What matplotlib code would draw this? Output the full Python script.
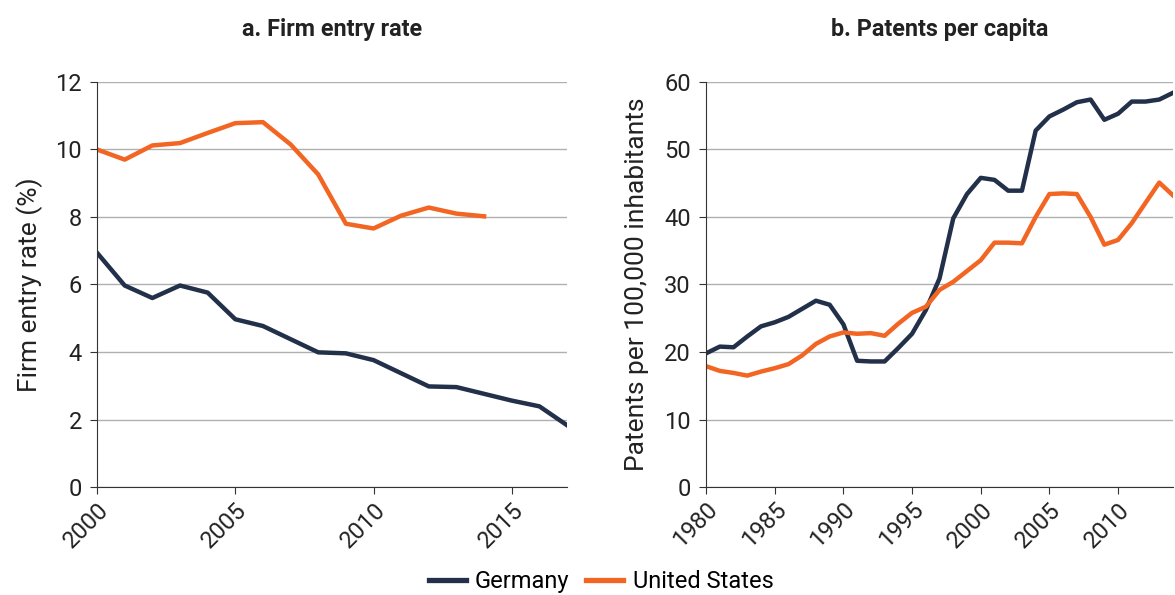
import matplotlib
matplotlib.use("Agg")
import matplotlib.pyplot as plt

# panel a: firm entry rate (%)
years_a = list(range(2000, 2018))
entry_de = [6.94, 5.97, 5.60, 5.97, 5.76, 4.97, 4.77, 4.38, 3.99, 3.96,
            3.76, 3.37, 2.98, 2.96, 2.76, 2.56, 2.39, 1.83]
years_a_us = list(range(2000, 2015))
entry_us = [10.0, 9.7, 10.12, 10.19, 10.49, 10.78, 10.81, 10.15, 9.26, 7.80,
            7.66, 8.04, 8.28, 8.10, 8.02]

# panel b: patents per 100,000 inhabitants
years_b = list(range(1980, 2015))
pat_de = [19.8, 20.8, 20.7, 22.3, 23.8, 24.4, 25.2, 26.4, 27.6, 27.0,
          24.1, 18.7, 18.6, 18.6, 20.6, 22.7, 26.2, 30.9, 39.8, 43.4,
          45.8, 45.5, 43.9, 43.9, 52.8, 54.9, 55.9, 57.0, 57.4, 54.4,
          55.3, 57.1, 57.1, 57.4, 58.4]
pat_us = [17.9, 17.2, 16.9, 16.5, 17.1, 17.6, 18.2, 19.5, 21.2, 22.3,
          22.9, 22.7, 22.8, 22.4, 24.2, 25.8, 26.7, 29.2, 30.4, 32.0,
          33.6, 36.2, 36.2, 36.1, 40.0, 43.4, 43.5, 43.4, 40.0, 35.9,
          36.6, 39.1, 42.1, 45.1, 43.2]

c_de = '#22304a'
c_us = '#f26522'
txt = '#222222'

plt.rcParams['font.family'] = ['Roboto', 'DejaVu Sans']

fig = plt.figure(figsize=(11.75, 5.95), dpi=100)
ax1 = fig.add_axes([0.0826, 0.1815, 0.4, 0.6807])
ax2 = fig.add_axes([0.6009, 0.1815, 0.3974, 0.6807])


def style(ax):
    ax.grid(axis='y', color='#b0b0b0', linewidth=1)
    ax.set_axisbelow(True)
    for s in ['top', 'right']:
        ax.spines[s].set_visible(False)
    for s in ['left', 'bottom']:
        ax.spines[s].set_color('#333333')
    ax.tick_params(axis='both', labelsize=17, colors='#333333', labelcolor=txt,
                   length=5)
    ax.tick_params(axis='y', pad=6)
    ax.tick_params(axis='x', pad=3)
    for lab in ax.get_xticklabels():
        lab.set_rotation(45)
        lab.set_ha('right')
        lab.set_rotation_mode('anchor')


ax1.plot(years_a, entry_de, color=c_de, lw=3.2, label='Germany')
ax1.plot(years_a_us, entry_us, color=c_us, lw=3.2, label='United States')
ax1.set_xlim(2000, 2017)
ax1.set_ylim(0, 12)
ax1.set_xticks([2000, 2005, 2010, 2015])
ax1.set_yticks(range(0, 13, 2))
ax1.set_ylabel('Firm entry rate (%)', fontsize=19, color=txt, labelpad=9)
ax1.set_title('a. Firm entry rate', fontsize=16.8, fontweight='bold', pad=33,
              color=txt)
style(ax1)

ax2.plot(years_b, pat_de, color=c_de, lw=3.2)
ax2.plot(years_b, pat_us, color=c_us, lw=3.2)
ax2.set_xlim(1980, 2014)
ax2.set_ylim(0, 60)
ax2.set_xticks(range(1980, 2011, 5))
ax2.set_yticks(range(0, 61, 10))
ax2.set_ylabel('Patents per 100,000 inhabitants', fontsize=19, color=txt,
               labelpad=11)
ax2.set_title('b. Patents per capita', fontsize=16.8, fontweight='bold', pad=33,
              color=txt)
style(ax2)

h, l = ax1.get_legend_handles_labels()
leg = fig.legend(h, l, loc='center', bbox_to_anchor=(0.5115, 0.022), ncol=2,
                 frameon=False, fontsize=17, handlelength=1.57,
                 handletextpad=0.4, columnspacing=0.7)
for line in leg.get_lines():
    line.set_linewidth(3.8)

fig.savefig('out.png', dpi=100)
